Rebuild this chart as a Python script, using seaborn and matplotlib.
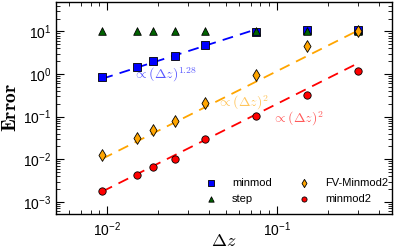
import numpy as np
import pandas as pd
import matplotlib
matplotlib.use("Agg")
import matplotlib.pyplot as plt
import seaborn as sns

# grid spacing
dz = [0.009375, 0.015, 0.01875, 0.025, 0.0375, 0.075, 0.15, 0.3]

# errors
err_minmod = [0.85, 1.48, 1.97, 2.6, 4.7, 9.5, 10.7, 10.7]
err_step = [10.4, 10.4, 10.4, 10.4, 10.4, 10.4, 10.4, 10.4]
err_fv_minmod2 = [0.0128, 0.0315, 0.049, 0.081, 0.204, 0.95, 4.45, 10.5]
err_minmod2 = [0.00175, 0.0043, 0.0064, 0.0100, 0.030, 0.101, 0.33, 1.15]

sns.set_style("ticks", {"axes.edgecolor": "black", "xtick.color": "black",
                        "ytick.color": "black", "text.color": "black",
                        "axes.labelcolor": "black"})
plt.rcParams["font.family"] = ["Liberation Sans", "DejaVu Sans"]
plt.rcParams["mathtext.fontset"] = "cm"

fig, ax = plt.subplots(figsize=(3.97, 2.52), dpi=100)
fig.subplots_adjust(left=0.141, right=0.987, bottom=0.151, top=0.992)

dz_arr = np.array(dz)
dash = (0, (6, 4))

# reference slopes
x1 = dz_arr[:6]
c1 = np.mean(np.log10(err_minmod[:6]) - 1.28 * np.log10(x1))
sns.lineplot(x=x1, y=10 ** c1 * x1 ** 1.28, ax=ax, color="blue", lw=1.3,
             linestyle=dash, zorder=1)
sns.lineplot(x=dz_arr, y=err_fv_minmod2[-1] * (dz_arr / dz_arr[-1]) ** 2, ax=ax,
             color="orange", lw=1.3, linestyle=dash, zorder=1)
sns.lineplot(x=dz_arr, y=err_minmod2[0] * (dz_arr / dz_arr[0]) ** 2, ax=ax,
             color="red", lw=1.3, linestyle=dash, zorder=1)

kw = dict(ax=ax, edgecolor="black", linewidth=0.6, zorder=3)
sns.scatterplot(x=dz, y=err_minmod, marker="s", s=32, color="blue", label="minmod", **kw)
sns.scatterplot(x=dz, y=err_step, marker="^", s=30, color="darkgreen", label="step", **kw)
sns.scatterplot(x=dz, y=err_fv_minmod2, marker="d", s=36, color="orange", label="FV-Minmod2", **kw)
sns.scatterplot(x=dz, y=err_minmod2, marker="o", s=28, color="red", label="minmod2", **kw)

ax.set_xscale("log")
ax.set_yscale("log")
ax.set_xlim(0.005, 0.475)
ax.set_ylim(5.2e-4, 49)

ax.text(0.0143, 0.95, r"$\propto(\Delta z)^{1.28}$", color="blue", alpha=0.65, fontsize=10,
        va="center")
ax.text(0.0446, 0.213, r"$\propto(\Delta z)^{2}$", color="orange", alpha=0.65, fontsize=10,
        va="center")
ax.text(0.0935, 0.09, r"$\propto(\Delta z)^{2}$", color="red", alpha=0.65, fontsize=10,
        va="center")

ax.set_xlabel(r"$\Delta z$", fontsize=13)
ax.xaxis.set_label_coords(0.5, -0.09)
ax.set_ylabel(r"$\mathbf{Error}$", fontsize=14, labelpad=2)

ax.tick_params(which="both", direction="in", top=True, right=True, labelsize=10)
ax.tick_params(axis="x", which="both", pad=5)
ax.tick_params(axis="y", which="both", pad=3.5)
ax.tick_params(which="major", length=6, width=0.8)
ax.tick_params(which="minor", length=3, width=0.6)
for s in ax.spines.values():
    s.set_linewidth(1.0)

ax.legend(ncol=2, loc="lower right", bbox_to_anchor=(1.006, 0.02), frameon=False,
          fontsize=8, columnspacing=1.9, handletextpad=0.9, labelspacing=0.55,
          borderaxespad=0.1, markerscale=0.7)

fig.savefig("out.png", dpi=100)
